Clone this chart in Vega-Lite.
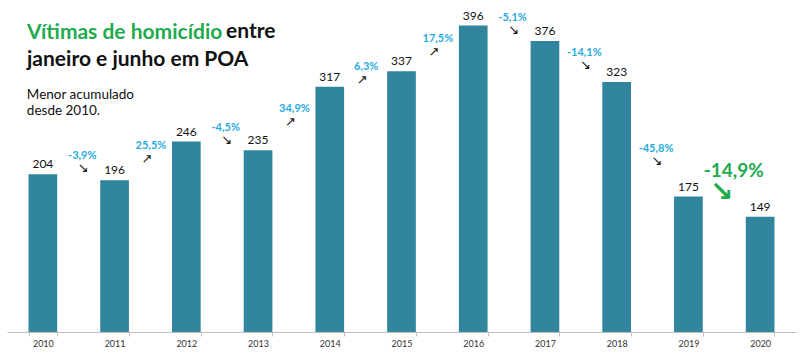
{
  "$schema": "https://vega.github.io/schema/vega-lite/v6.json",
  "width": 789,
  "height": 332,
  "autosize": "none",
  "padding": {"left": 7, "top": 0, "right": 4, "bottom": 21},
  "background": "white",
  "config": {"view": {"stroke": null}, "font": "Lato"},
  "title": {
    "text": "Vítimas de homicídio",
    "subtitle": ["\u200b\u00a0\u00a0\u00a0\u00a0\u00a0\u00a0\u00a0\u00a0\u00a0\u00a0\u00a0\u00a0\u00a0\u00a0\u00a0\u00a0\u00a0\u00a0\u00a0\u00a0\u00a0\u00a0\u00a0\u00a0\u00a0\u00a0\u00a0\u00a0\u00a0\u00a0\u00a0\u00a0\u00a0\u00a0\u00a0\u00a0\u00a0\u00a0\u00a0entre", "janeiro e junho em POA"],
    "anchor": "start",
    "frame": "group",
    "orient": "top",
    "offset": -71,
    "dx": 20,
    "font": "Lato",
    "fontSize": 21,
    "fontWeight": "bold",
    "color": "#1faa4f",
    "lineHeight": 28,
    "subtitleFont": "Lato",
    "subtitleFontSize": 21,
    "subtitleFontWeight": "bold",
    "subtitleColor": "#111111",
    "subtitleLineHeight": 28,
    "subtitlePadding": -22
  },
  "datasets": {
    "anos": [
      {"ano": "2010", "vitimas": 204},
      {"ano": "2011", "vitimas": 196},
      {"ano": "2012", "vitimas": 246},
      {"ano": "2013", "vitimas": 235},
      {"ano": "2014", "vitimas": 317},
      {"ano": "2015", "vitimas": 337},
      {"ano": "2016", "vitimas": 396},
      {"ano": "2017", "vitimas": 376},
      {"ano": "2018", "vitimas": 323},
      {"ano": "2019", "vitimas": 175},
      {"ano": "2020", "vitimas": 149}
    ],
    "variacoes": [
      {"ano": "2011", "variacao": "-3,9%", "sentido": "queda", "rotulo_em": 228},
      {"ano": "2012", "variacao": "25,5%", "sentido": "alta", "rotulo_em": 240},
      {"ano": "2013", "variacao": "-4,5%", "sentido": "queda", "rotulo_em": 263},
      {"ano": "2014", "variacao": "34,9%", "sentido": "alta", "rotulo_em": 288},
      {"ano": "2015", "variacao": "6,3%", "sentido": "alta", "rotulo_em": 343},
      {"ano": "2016", "variacao": "17,5%", "sentido": "alta", "rotulo_em": 379},
      {"ano": "2017", "variacao": "-5,1%", "sentido": "queda", "rotulo_em": 406},
      {"ano": "2018", "variacao": "-14,1%", "sentido": "queda", "rotulo_em": 360},
      {"ano": "2019", "variacao": "-45,8%", "sentido": "queda", "rotulo_em": 237},
      {"ano": "2020", "variacao": "-14,9%", "sentido": "destaque", "rotulo_em": 208}
    ]
  },
  "layer": [
    {
      "data": {"name": "anos"},
      "mark": {"type": "bar", "color": "#31859c"},
      "encoding": {
        "x": {
          "field": "ano", "type": "ordinal",
          "scale": {"paddingInner": 0.6, "paddingOuter": 0.3},
          "axis": {
            "title": null, "labelAngle": 0, "tickBand": "extent",
            "domainColor": "#bfbfbf", "tickColor": "#bfbfbf", "tickSize": 4,
            "labelFontSize": 9, "labelColor": "#333333", "labelPadding": 3, "labelFont": "Lato"
          }
        },
        "y": {"field": "vitimas", "type": "quantitative", "scale": {"domain": [0, 429], "nice": false}, "axis": null}
      }
    },
    {
      "data": {"name": "anos"},
      "mark": {"type": "text", "dy": -10, "baseline": "middle", "fontSize": 12, "color": "#111111", "font": "Lato"},
      "encoding": {
        "x": {"field": "ano", "type": "ordinal"},
        "y": {"field": "vitimas", "type": "quantitative"},
        "text": {"field": "vitimas", "type": "quantitative"}
      }
    },
    {
      "data": {"name": "variacoes"},
      "transform": [{"filter": "datum.sentido == 'queda'"}],
      "mark": {"type": "text", "dx": -18, "baseline": "middle", "fontSize": 11, "fontWeight": "bold", "color": "#29abe2", "font": "Lato"},
      "encoding": {
        "x": {"field": "ano", "type": "ordinal", "bandPosition": 0},
        "y": {"field": "rotulo_em", "type": "quantitative"},
        "text": {"field": "variacao"}
      }
    },
    {
      "data": {"name": "variacoes"},
      "transform": [{"filter": "datum.sentido == 'alta'"}],
      "mark": {"type": "text", "dx": -21, "baseline": "middle", "fontSize": 11, "fontWeight": "bold", "color": "#29abe2", "font": "Lato"},
      "encoding": {
        "x": {"field": "ano", "type": "ordinal", "bandPosition": 0},
        "y": {"field": "rotulo_em", "type": "quantitative"},
        "text": {"field": "variacao"}
      }
    },
    {
      "data": {"name": "variacoes"},
      "transform": [{"filter": "datum.sentido == 'queda'"}],
      "mark": {"type": "text", "text": "↘", "dx": -17, "dy": 12, "baseline": "middle", "fontSize": 13, "color": "#111111", "font": "DejaVu Sans"},
      "encoding": {
        "x": {"field": "ano", "type": "ordinal", "bandPosition": 0},
        "y": {"field": "rotulo_em", "type": "quantitative"}
      }
    },
    {
      "data": {"name": "variacoes"},
      "transform": [{"filter": "datum.sentido == 'alta'"}],
      "mark": {"type": "text", "text": "↗", "dx": -25, "dy": 13, "baseline": "middle", "fontSize": 13, "color": "#111111", "font": "DejaVu Sans"},
      "encoding": {
        "x": {"field": "ano", "type": "ordinal", "bandPosition": 0},
        "y": {"field": "rotulo_em", "type": "quantitative"}
      }
    },
    {
      "data": {"name": "variacoes"},
      "transform": [{"filter": "datum.sentido == 'destaque'"}],
      "mark": {"type": "text", "dx": -12, "baseline": "middle", "fontSize": 19, "fontWeight": "bold", "color": "#1faa4f", "font": "Lato"},
      "encoding": {
        "x": {"field": "ano", "type": "ordinal", "bandPosition": 0},
        "y": {"field": "rotulo_em", "type": "quantitative"},
        "text": {"field": "variacao"}
      }
    },
    {
      "data": {"name": "variacoes"},
      "transform": [{"filter": "datum.sentido == 'destaque'"}],
      "mark": {"type": "text", "text": "↘", "dx": -24, "dy": 22, "baseline": "middle", "fontSize": 28, "fontWeight": "bold", "color": "#1faa4f", "font": "DejaVu Sans"},
      "encoding": {
        "x": {"field": "ano", "type": "ordinal", "bandPosition": 0},
        "y": {"field": "rotulo_em", "type": "quantitative"}
      }
    },
    {
      "data": {"values": [{"nota": "Menor acumulado"}]},
      "mark": {"type": "text", "text": ["Menor acumulado", "desde 2010."], "align": "left", "baseline": "alphabetic", "dx": -16, "fontSize": 13.5, "lineHeight": 16, "color": "#111111", "font": "Lato"},
      "encoding": {
        "x": {"datum": "2010", "type": "ordinal"},
        "y": {"datum": 301, "type": "quantitative"}
      }
    }
  ]
}
